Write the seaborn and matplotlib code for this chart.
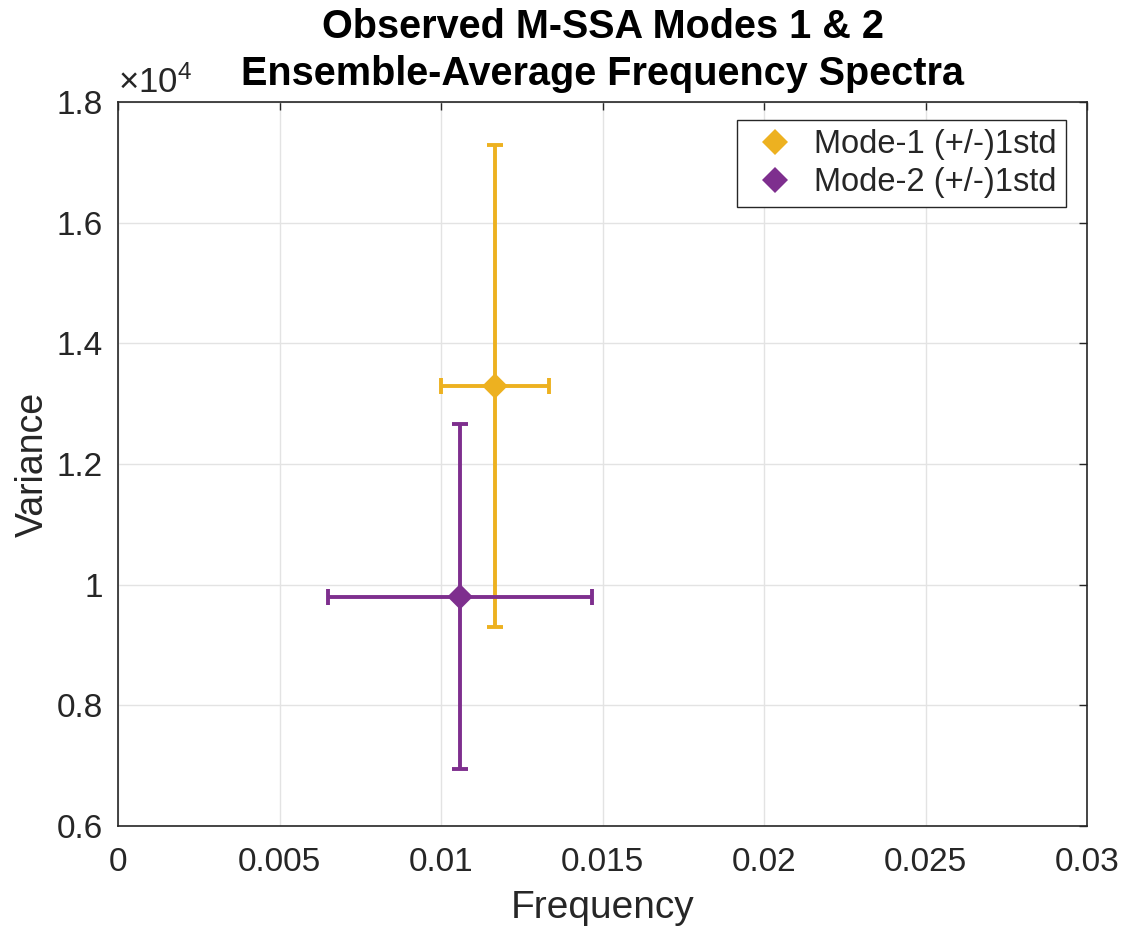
import matplotlib
matplotlib.use("Agg")
import matplotlib.pyplot as plt
import seaborn as sns
import pandas as pd
from matplotlib.ticker import FuncFormatter

modes = ["Mode-1 (+/-)1std", "Mode-2 (+/-)1std"]
freq = [0.01167, 0.01059]
freq_std = [0.00167, 0.00409]
variance = [13293, 9800]
variance_std = [3992, 2857]
colors = ["#EDB120", "#7E2F8E"]
xticks = [0, 0.005, 0.01, 0.015, 0.02, 0.025, 0.03]
yticks = [6000, 8000, 10000, 12000, 14000, 16000, 18000]

df = pd.DataFrame({"mode": modes, "freq": freq, "var": variance,
                   "fstd": freq_std, "vstd": variance_std})

sns.set_theme(style="whitegrid")
plt.rcParams["font.family"] = ["Liberation Sans", "DejaVu Sans"]
plt.rcParams["mathtext.fontset"] = "custom"
plt.rcParams["mathtext.rm"] = "Liberation Sans"
plt.rcParams["mathtext.it"] = "Liberation Sans"

fig = plt.figure(figsize=(11.27, 9.34), dpi=100)
ax = fig.add_axes([118/1127, 1 - 826/934, (1087-118)/1127, (826-102)/934])

for i, row in df.iterrows():
    ax.errorbar(row["freq"], row["var"], xerr=row["fstd"], yerr=row["vstd"],
                fmt="none", ecolor=colors[i], elinewidth=2.8, capsize=6,
                capthick=2.8, zorder=3)

sns.scatterplot(data=df, x="freq", y="var", hue="mode", palette=colors,
                marker="D", s=170, edgecolor=None, linewidth=0, ax=ax, zorder=4)

ax.set_xlim(0, 0.03)
ax.set_ylim(6000, 18000)
ax.set_xticks(xticks)
ax.set_yticks(yticks)
ax.xaxis.set_major_formatter(FuncFormatter(lambda v, p: f"{v:g}"))
ax.yaxis.set_major_formatter(FuncFormatter(lambda v, p: f"{v/1e4:g}"))
ax.tick_params(axis="both", labelsize=24, colors="#262626", direction="in",
               length=6, width=1, top=True, right=True)
ax.tick_params(axis="x", pad=15)
ax.tick_params(axis="y", pad=11)
ax.grid(True, color="#e3e3e3", linewidth=1)
for s in ax.spines.values():
    s.set_color("#262626")
    s.set_linewidth(1.2)
    s.set_visible(True)

ax.set_xlabel("Frequency", fontsize=28, color="#262626", labelpad=9)
ax.set_ylabel("Variance", fontsize=27, color="#262626", labelpad=4)
ax.set_title("Observed M-SSA Modes 1 & 2\nEnsemble-Average Frequency Spectra",
             fontsize=28.5, fontweight="bold", color="black", pad=12,
             linespacing=1.32)
ax.text(0.0, 1.0124, r"$\times10^{4}$", transform=ax.transAxes, fontsize=25,
        color="#262626", ha="left", va="baseline")

handles, labels = ax.get_legend_handles_labels()
leg = ax.legend(handles=handles, labels=labels, loc="upper right",
                bbox_to_anchor=(1 - 21/969, 1 - 18/724), borderaxespad=0,
                fontsize=23.5, frameon=True, fancybox=False, edgecolor="#262626",
                framealpha=1, handletextpad=0.3, handlelength=1.8,
                borderpad=0.28, labelspacing=0.22, markerscale=1.0)
leg.get_frame().set_linewidth(1.0)

fig.savefig("out.png", dpi=100)
